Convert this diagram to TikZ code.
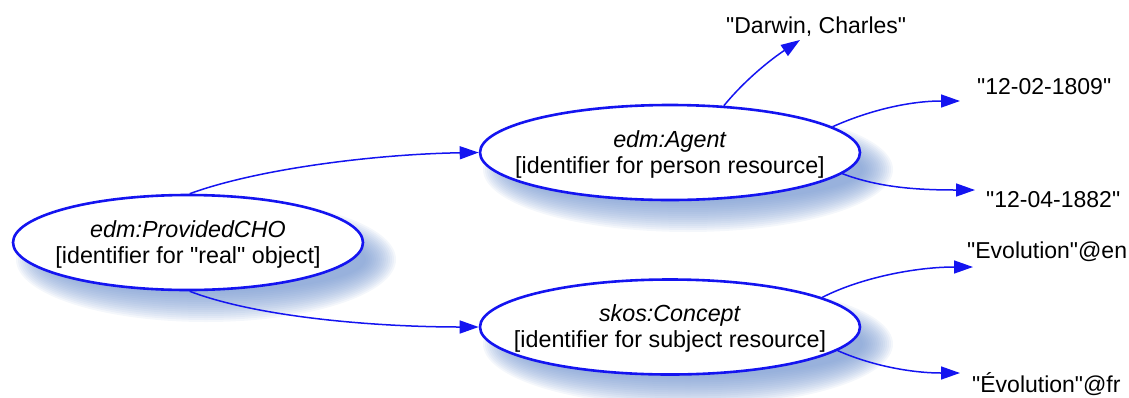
\documentclass[tikz,border=0pt]{standalone}
\usepackage{fontspec}
\setmainfont{Liberation Sans}
\usetikzlibrary{shapes.geometric,arrows.meta,calc}
\definecolor{eblue}{RGB}{20,20,240}
\definecolor{shblue}{RGB}{110,145,205}
\newcommand{\shell}[4]{%
  \foreach \i in {0,...,15}{%
    \fill[shblue, fill opacity=0.075] (#1+18,#2+17) ellipse [x radius={#3+15-\i*2}, y radius={#4+15-\i*2}];
  }}
\newcommand{\q}{\textquotedbl}
\begin{document}
\begin{tikzpicture}[x=1pt,y=-1pt,
  res/.style={ellipse, draw=eblue, line width=2.6pt, fill=white, minimum width=380pt, minimum height=95pt, inner sep=0pt},
  restext/.style={inner sep=0pt, align=center, yshift=-1.5pt, font=\fontsize{23.3}{26}\selectfont},
  lit/.style={inner sep=0pt, anchor=base west, font=\fontsize{23}{26}\selectfont},
  link/.style={draw=eblue, line width=1.5pt, -{Triangle[length=19pt,width=13pt]}}]
\useasboundingbox (0,0) rectangle (1129,397);
\shell{188}{242.5}{175}{47.5}
\shell{670}{152.5}{190}{47.5}
\shell{670}{327}{190}{47.5}
\node[res, minimum width=350pt] (cho) at (188,242.5) {};
\node[res] (agent) at (670,152.5) {};
\node[res] (concept) at (670,327) {};
\node[restext] (chot) at (cho) {\textit{edm:ProvidedCHO}\\{}[identifier for \q real\q{} object]};
\node[restext] (agentt) at (agent) {\textit{edm:Agent}\\{}[identifier for person resource]};
\node[restext] (conceptt) at (concept) {\textit{skos:Concept}\\{}[identifier for subject resource]};
\node[lit] (darwin) at (726,33) {\q Darwin, Charles\q};
\node[lit] (d1) at (977,94) {\q 12-02-1809\q};
\node[lit] (d2) at (986,207) {\q 12-04-1882\q};
\node[lit] (en) at (967,258) {\q Evolution\q @en};
\node[lit] (fr) at (972,392) {\q Évolution\q @fr};
\draw[link] (cho.88) .. controls (260,168) and (380,154) .. (agent.west);
\draw[link] (cho.-88) .. controls (260,318) and (380,327) .. (concept.west);
\draw[link] (agent.41) .. controls (745,80) and (770,60) .. ($(darwin.base west)+(74,7)$);
\draw[link] (agent.9.6) .. controls (870,110) and (910,101) .. ($(d1.base west)+(-17,7)$);
\draw[link] (agent.-7) .. controls (880,188) and (920,190) .. ($(d2.base west)+(-11,-17)$);
\draw[link] (concept.11) .. controls (860,278) and (915,267) .. ($(en.base west)+(6,9)$);
\draw[link] (concept.-8.6) .. controls (870,365) and (910,373) .. ($(fr.base west)+(-12,-19)$);
\end{tikzpicture}
\end{document}
